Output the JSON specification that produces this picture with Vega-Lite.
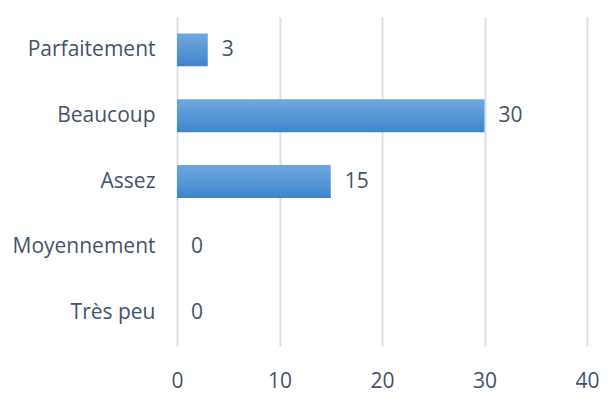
{
  "$schema": "https://vega.github.io/schema/vega-lite/v6.json",
  "width": 410,
  "height": 329,
  "autosize": {"type": "none"},
  "padding": {"left": 177, "top": 17, "right": 22, "bottom": 59},
  "background": "white",
  "config": {
    "view": {"stroke": null},
    "font": "Open Sans",
    "axis": {"labelFont": "Open Sans", "labelColor": "#44546A", "labelFontSize": 21}
  },
  "data": {
    "values": [
      {"categorie": "Parfaitement", "valeur": 3},
      {"categorie": "Beaucoup", "valeur": 30},
      {"categorie": "Assez", "valeur": 15},
      {"categorie": "Moyennement", "valeur": 0},
      {"categorie": "Très peu", "valeur": 0}
    ]
  },
  "encoding": {
    "y": {
      "field": "categorie",
      "type": "nominal",
      "sort": null,
      "scale": {"paddingInner": 0.5, "paddingOuter": 0.25},
      "axis": {"title": null, "domain": false, "ticks": false, "labelPadding": 22}
    },
    "x": {
      "field": "valeur",
      "type": "quantitative",
      "scale": {"domain": [0, 40], "nice": false},
      "axis": {
        "title": null, "domain": false, "ticks": false, "values": [0, 10, 20, 30, 40],
        "labelFlush": false, "labelPadding": 24, "gridColor": "#DCE0E8", "gridWidth": 2
      }
    }
  },
  "layer": [
    {
      "mark": {
        "type": "bar",
        "color": {
          "gradient": "linear", "x1": 0, "y1": 0, "x2": 0, "y2": 1,
          "stops": [{"offset": 0, "color": "#6FA8DF"}, {"offset": 1, "color": "#3F85CA"}]
        }
      }
    },
    {
      "mark": {"type": "text", "align": "left", "dx": 14, "fontSize": 21, "color": "#44546A", "font": "Open Sans"},
      "encoding": {"text": {"field": "valeur", "type": "quantitative"}}
    }
  ]
}
